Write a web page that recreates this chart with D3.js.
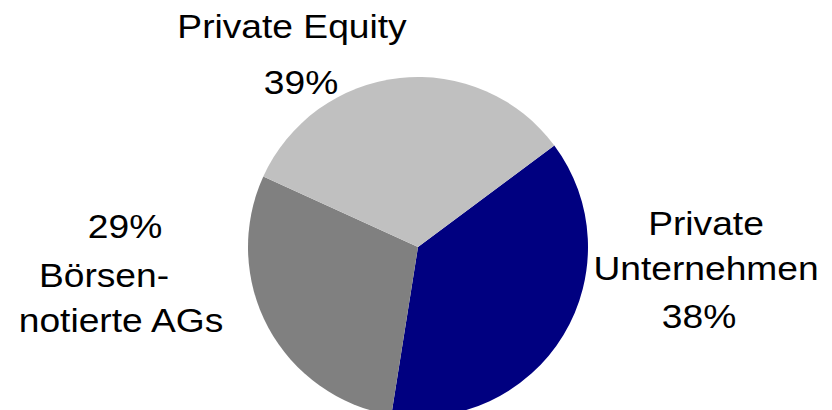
<!DOCTYPE html>
<html>
<head>
<meta charset="utf-8">
<script src="https://cdn.jsdelivr.net/npm/d3@7"></script>
<style>
  html, body { margin: 0; padding: 0; background: #fff; }
  svg { display: block; }
  .lbl { font-family: Arial, "Liberation Sans", sans-serif; font-size: 33.5px; fill: #000; }
</style>
</head>
<body>
<div id="chart"></div>
<script>
const categories = ["Private Unternehmen", "Börsennotierte AGs", "Private Equity"];
// slice sizes as drawn (the printed labels do not add up to 100)
const shares = [37.7, 29.3, 33.0];
const shareLabels = ["38%", "29%", "39%"];
const colors = ["#000080", "#808080", "#c0c0c0"];

// label lines per slice, in drawing order
const labelLines = [
  ["Private", "Unternehmen", "38%"],
  ["29%", "Börsen-", "notierte AGs"],
  ["Private Equity", "39%"],
];

const W = 832, H = 410;
const cx = 418, cy = 247, r = 170;
const startDeg = 53.3;

const svg = d3.select("#chart").append("svg").attr("width", W).attr("height", H);
const g = svg.append("g").attr("transform", `translate(${cx},${cy})`);

const pie = d3.pie().sort(null).value((d) => d)
  .startAngle(startDeg * Math.PI / 180)
  .endAngle(startDeg * Math.PI / 180 + 2 * Math.PI);
const arc = d3.arc().innerRadius(0).outerRadius(r);

g.selectAll("path")
  .data(pie(shares))
  .join("path")
  .attr("d", arc)
  .attr("fill", (d, i) => colors[i]);

// text blocks: centre x and baseline of each line (page coords)
const labelPos = [
  [[706, 235], [706, 280], [699, 328]],
  [[125, 238], [104, 287], [121, 332]],
  [[292, 38], [301, 94]],
];

labelLines.forEach((lines, i) => {
  lines.forEach((t, j) => {
    const [x, y] = labelPos[i][j];
    svg.append("text")
      .attr("class", "lbl")
      .attr("text-anchor", "middle")
      .attr("transform", `translate(${x},${y}) scale(1.11,1)`)
      .text(t);
  });
});
</script>
</body>
</html>
